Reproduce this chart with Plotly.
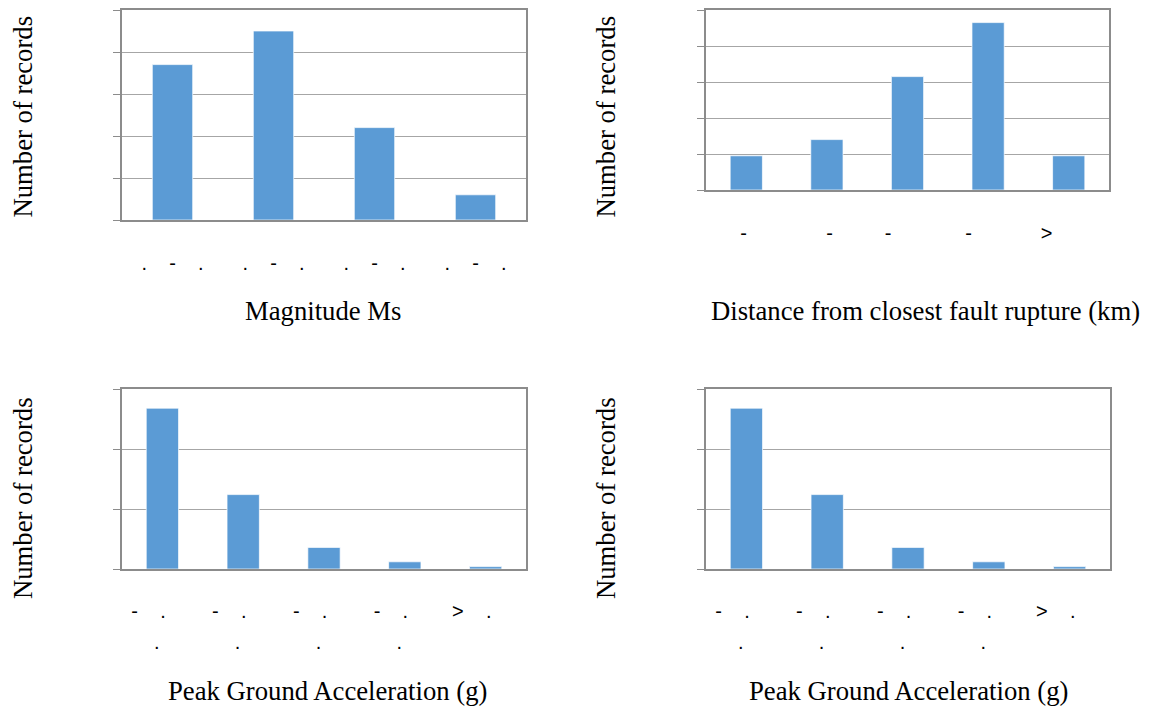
import plotly.graph_objects as go

OFF = 8  # default page body margin
W, H = 1149 - OFF, 706 - OFF
NB = "\u00a0"

# ---- data ----
mag_labels = ["." + NB*4 + "-" + NB*4 + "."] * 4
mag_counts = [37, 45, 22, 6]

dist_labels = ["-" + NB, NB + "-", "-" + NB*7, "-" + NB*7, ">" + NB*8]
dist_counts = [9.5, 14, 31.5, 46.5, 9.5]

pga_row1 = ["-" + NB*4 + "." + NB*5] * 4 + [">" + NB*4 + "." + NB*5]
pga_row2 = ["." + NB*2] * 4 + [""]
pga_counts = [67, 31, 9, 3, 1]

y_title = "Number of records"
x_titles = ["Magnitude Ms", "Distance from closest fault rupture (km)",
            "Peak Ground Acceleration (g)", "Peak Ground Acceleration (g)"]

BLUE = "#5b9bd5"
GRID = "#a6a6a6"
FRAME = "#8c8c8c"
TICKFONT = dict(family="Liberation Sans", size=20, color="black")
SERIF = dict(family="Liberation Serif", size=26.7, color="black")


def fx(p):
    return (p - OFF) / W


def fy(p):
    return 1 - (p - OFF) / H


panels = [
    dict(x0=122, x1=526, y0=10, y1=220, labels=mag_labels, vals=mag_counts, ymax=50, dtick=10),
    dict(x0=706, x1=1109, y0=10, y1=190, labels=dist_labels, vals=dist_counts, ymax=50, dtick=10),
    dict(x0=122, x1=526, y0=389, y1=569, labels=pga_row1, vals=pga_counts, ymax=75, dtick=25),
    dict(x0=706, x1=1110, y0=389, y1=569, labels=pga_row1, vals=pga_counts, ymax=75, dtick=25),
]

fig = go.Figure()
layout = {}
for i, p in enumerate(panels, start=1):
    sfx = "" if i == 1 else str(i)
    n = len(p["vals"])
    fig.add_trace(go.Bar(
        x=list(range(n)), y=p["vals"], xaxis="x" + sfx, yaxis="y" + sfx,
        marker=dict(color=BLUE, line=dict(color="rgba(255,255,255,0.7)", width=1)),
        showlegend=False, hoverinfo="y"))
    layout["xaxis" + sfx] = dict(
        domain=[fx(p["x0"]), fx(p["x1"])], anchor="y" + sfx,
        range=[-0.5, n - 0.5], tickmode="array", tickvals=list(range(n)),
        ticktext=p["labels"], tickfont=TICKFONT, ticks="", showgrid=False,
        showline=True, linecolor=FRAME, linewidth=2, mirror=True, zeroline=False,
        ticklabelstandoff=24 if i <= 2 else 23, fixedrange=True)
    layout["yaxis" + sfx] = dict(
        domain=[fy(p["y1"]), fy(p["y0"])], anchor="x" + sfx,
        range=[0, p["ymax"]], dtick=p["dtick"], tick0=0, showticklabels=False,
        ticks="outside", ticklen=7, tickcolor=FRAME, tickwidth=1,
        showgrid=True, gridcolor=GRID, gridwidth=1,
        showline=True, linecolor=FRAME, linewidth=2, mirror=True, zeroline=False,
        fixedrange=True)

# second row of tick labels for PGA panels (overlay axes)
for j, base in [(5, 3), (6, 4)]:
    p = panels[base - 1]
    n = len(p["vals"])
    fig.add_trace(go.Scatter(
        x=list(range(n)), y=[0] * n, mode="markers", marker=dict(opacity=0),
        xaxis="x" + str(j), yaxis="y" + str(base), hoverinfo="skip", showlegend=False))
    layout["xaxis" + str(j)] = dict(
        domain=[fx(p["x0"]), fx(p["x1"])], anchor="y" + str(base),
        overlaying="x" + str(base), range=[-0.5, n - 0.5], tickmode="array",
        tickvals=list(range(n)), ticktext=pga_row2, tickfont=TICKFONT, ticks="",
        showgrid=False, showline=False, zeroline=False,
        ticklabelstandoff=59, fixedrange=True)

annotations = []
# y titles
for (xc, yc) in [(23, 116.5), (606, 116.5), (23, 498), (606, 498)]:
    annotations.append(dict(text=y_title, x=fx(xc), y=fy(yc), xref="paper", yref="paper",
                            xanchor="center", yanchor="middle", textangle=-90,
                            showarrow=False, font=SERIF))
# x titles
for t, (xc, yc) in zip(x_titles, [(323, 311), (925, 311), (327, 691), (908, 691)]):
    annotations.append(dict(text=t, x=fx(xc), y=fy(yc), xref="paper", yref="paper",
                            xanchor="center", yanchor="middle",
                            showarrow=False, font=SERIF))

fig.update_layout(**layout)
fig.update_layout(
    width=W, height=H, margin=dict(l=0, r=0, t=0, b=0),
    paper_bgcolor="white", plot_bgcolor="white", bargap=0.6,
    annotations=annotations, showlegend=False)

fig.write_html("out.html")
